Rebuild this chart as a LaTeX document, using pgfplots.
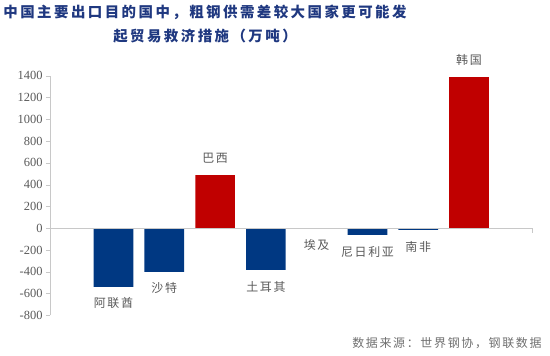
\documentclass[border=0pt]{standalone}
\usepackage{pgfplots}
\pgfplotsset{compat=1.18}
\usepackage{fontspec}
\setmainfont{Liberation Serif}
\newfontfamily\cjkt[LetterSpace=17]{Noto Sans CJK SC}
\newfontfamily\cjkl[LetterSpace=14]{Noto Sans CJK SC}
\definecolor{barblue}{RGB}{0,56,130}
\definecolor{barred}{RGB}{192,0,0}
\definecolor{ttl}{RGB}{31,56,128}
\definecolor{lbl}{RGB}{89,89,89}
\definecolor{src}{RGB}{110,110,110}
\definecolor{axl}{RGB}{200,200,200}
\begin{document}
\begin{tikzpicture}[x=1bp,y=1bp]
\useasboundingbox (-50,-39.7) rectangle (500,315.3);
\begin{axis}[at={(0,0)}, anchor=south west, scale only axis,
  width=482bp, height=239.6bp,
  xmin=-1.25, xmax=8.24, ymin=-800, ymax=1400,
  axis x line=none, axis y line*=left,
  ytick={-800,-600,...,1400},
  y axis line style={draw=axl,-},
  ytick style={draw=axl},
  tick align=outside, major tick length=4bp,
  yticklabel style={font=\fontsize{12.5}{14}\selectfont, text=lbl},
  /pgf/number format/assume math mode=true,
  /pgf/number format/set thousands separator={},
  clip=false]
\addplot[ybar, bar width=0.78, bar shift=0pt, fill=barblue, draw=none] coordinates {(0,-540) (1,-402) (3,-384) (4,0) (5,-62) (6,-16)};
\addplot[ybar, bar width=0.78, bar shift=0pt, fill=barred, draw=none] coordinates {(2,488) (7,1386)};
\draw[axl] (axis cs:-1.25,0) -- (axis cs:8.24,0) -- ++(0bp,-5bp);
\tikzset{lb/.style={font=\cjkl\fontsize{12}{14}\selectfont, text=lbl}}
\node[lb, yshift=-16bp] at (axis cs:0,-540) {阿联酋};
\node[lb, yshift=-16bp] at (axis cs:1,-402) {沙特};
\node[lb, yshift=17bp] at (axis cs:2,488) {巴西};
\node[lb, yshift=-17bp] at (axis cs:3,-384) {土耳其};
\node[lb, yshift=-17bp] at (axis cs:4,0) {埃及};
\node[lb, yshift=-17bp] at (axis cs:5,-62) {尼日利亚};
\node[lb, yshift=-17bp] at (axis cs:6,-16) {南非};
\node[lb, yshift=17bp] at (axis cs:7,1386) {韩国};
\end{axis}
\node[font=\cjkt\bfseries\fontsize{14.5}{16}\selectfont, text=ttl] at (155,303.3) {中国主要出口目的国中，粗钢供需差较大国家更可能发};
\node[font=\cjkt\bfseries\fontsize{14.5}{16}\selectfont, text=ttl] at (155,279.3) {起贸易救济措施（万吨）};
\node[anchor=east, font=\cjkl\fontsize{12}{14}\selectfont, text=src] at (495,-27.7) {数据来源：世界钢协，钢联数据};
\end{tikzpicture}
\end{document}
